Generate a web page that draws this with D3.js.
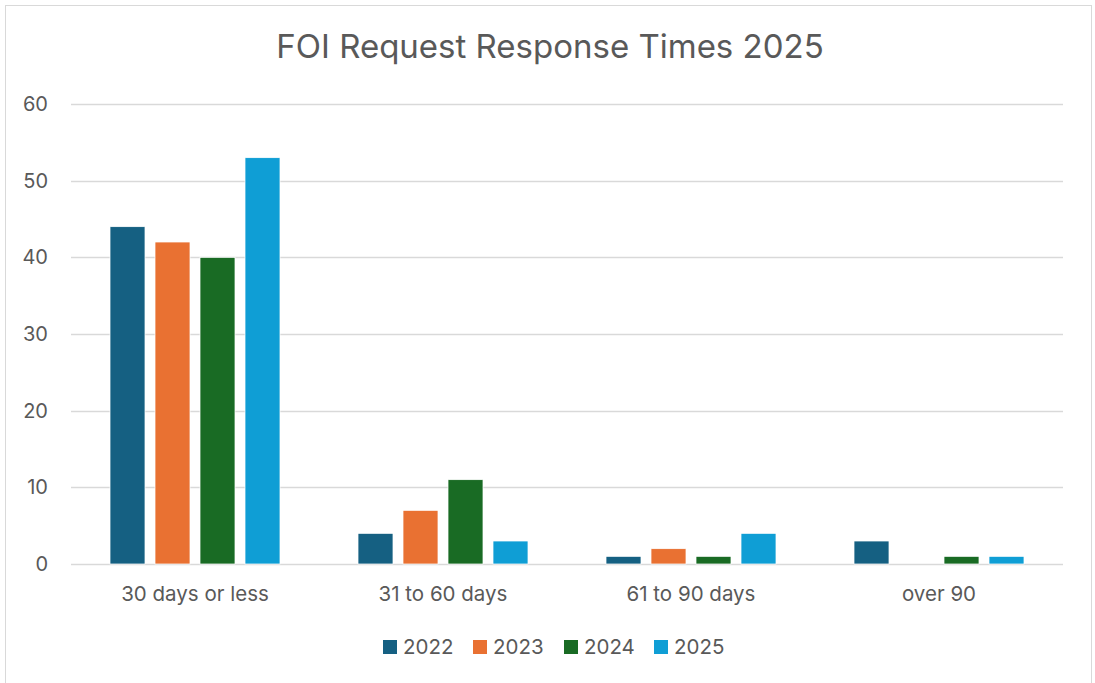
<!DOCTYPE html>
<html>
<head>
<meta charset="utf-8">
<script src="https://cdn.jsdelivr.net/npm/d3@7"></script>
<style>
  body { margin: 0; background: #fff; }
  text { font-family: Inter, "Liberation Sans", sans-serif; fill: #595959; }
</style>
</head>
<body>
<div id="chart"></div>
<script>
// data
const categories = ["30 days or less", "31 to 60 days", "61 to 90 days", "over 90"]
const years = ["2022", "2023", "2024", "2025"]
const values2022 = [44, 4, 1, 3]
const values2023 = [42, 7, 2, 0]
const values2024 = [40, 11, 1, 1]
const values2025 = [53, 3, 4, 1]
const yTicks = [0, 10, 20, 30, 40, 50, 60]
const colors = ["#156082", "#E97132", "#196B24", "#0F9ED5"]

const series = [values2022, values2023, values2024, values2025]

const width = 1095
const height = 683
const margin = { top: 104, bottom: 119, left: 71, right: 32 }

const svg = d3.select("#chart")
  .append("svg")
    .attr("width", width)
    .attr("height", height)

// outer border
svg.append("rect")
  .attr("x", 5.5).attr("y", 5.5)
  .attr("width", 1086).attr("height", 690)
  .attr("fill", "#fff")
  .attr("stroke", "#d9d9d9")

svg.append("text")
  .attr("x", 550).attr("y", 58)
  .attr("text-anchor", "middle")
  .style("font-size", "33px")
  .text("FOI Request Response Times 2025")

const x = d3.scaleBand()
  .domain(categories)
  .range([margin.left, width - margin.right])

const xInner = d3.scaleBand()
  .domain(years)
  .range([0, 170])
  .paddingInner(10 / 45)

const y = d3.scaleLinear()
  .domain([0, 60])
  .range([height - margin.bottom, margin.top])

// grid
svg.append("g")
  .selectAll("line")
  .data(yTicks)
  .join("line")
    .attr("x1", margin.left)
    .attr("x2", width - margin.right)
    .attr("y1", d => Math.round(y(d)) + 0.5)
    .attr("y2", d => Math.round(y(d)) + 0.5)
    .attr("stroke", "#d9d9d9")
    .attr("stroke-width", 1.5)

// y labels
svg.append("g")
  .selectAll("text")
  .data(yTicks)
  .join("text")
    .attr("x", 48)
    .attr("y", d => y(d))
    .attr("dy", "0.35em")
    .attr("text-anchor", "end")
    .style("font-size", "20px")
    .text(d => d)

// bars
const groups = svg.append("g")
  .selectAll("g")
  .data(years)
  .join("g")
    .attr("fill", (d, i) => colors[i])

groups.selectAll("rect")
  .data((yr, i) => series[i].map((v, j) => ({ cat: categories[j], yr: yr, v: v })))
  .join("rect")
    .attr("x", d => x(d.cat) + (x.bandwidth() - 170) / 2 + xInner(d.yr))
    .attr("width", xInner.bandwidth())
    .attr("y", d => y(d.v))
    .attr("height", d => y(0) - y(d.v))
    .attr("stroke", "#fff")
    .attr("stroke-width", 0.75)
    .style("display", d => d.v === 0 ? "none" : null)

// x labels
svg.append("g")
  .selectAll("text")
  .data(categories)
  .join("text")
    .attr("x", d => x(d) + x.bandwidth() / 2)
    .attr("y", 601)
    .attr("text-anchor", "middle")
    .style("font-size", "20.5px")
    .text(d => d)

// legend
const legendX = [383, 473, 564, 654]
const legend = svg.append("g")
  .selectAll("g")
  .data(years)
  .join("g")
    .attr("transform", (d, i) => `translate(${legendX[i]}, 640)`)

legend.append("rect")
  .attr("width", 14).attr("height", 14)
  .attr("fill", (d, i) => colors[i])

legend.append("text")
  .attr("x", 20)
  .attr("y", 7)
  .attr("dy", "0.35em")
  .style("font-size", "20.5px")
  .text(d => d)
</script>
</body>
</html>
